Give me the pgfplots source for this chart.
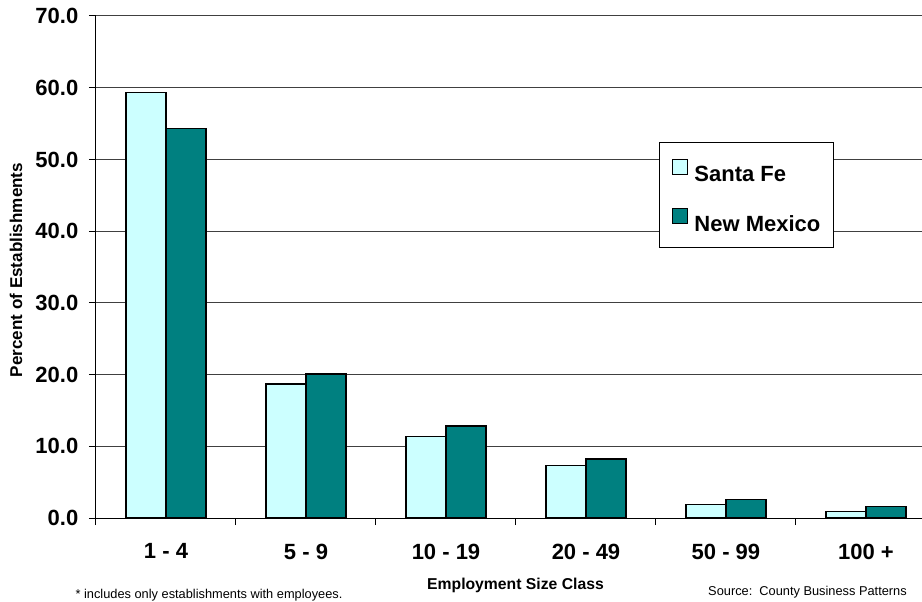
\documentclass[border=0pt]{standalone}
\usepackage{pgfplots}
\pgfplotsset{compat=1.18}
\usepackage{fontspec}
\setmainfont{Liberation Sans}
\definecolor{sfcol}{HTML}{CCFFFF}
\definecolor{nmcol}{HTML}{008080}
\begin{document}
\begin{tikzpicture}
\begin{axis}[
  scale only axis,
  width=619.5pt, height=376.5pt,
  at={(0pt,0pt)}, anchor=south west,
  xmin=-0.5, xmax=5.4, ymin=0, ymax=70,
  axis x line*=bottom, axis y line*=left,
  axis line style={-, line width=0.75pt, black},
  ybar=0pt, bar width=30pt,
  xtick={-0.5,0.5,1.5,2.5,3.5,4.5},
  xticklabels={},
  extra x ticks={0,1,2,3,4,5},
  extra x tick labels={1 - 4, 5 - 9, 10 - 19, 20 - 49, 50 - 99, 100 +},
  extra x tick style={major tick length=0pt, tick label style={yshift=-15.75pt}},
  ytick={0,10,...,70},
  tick align=outside,
  major tick length=5.25pt,
  tick style={black, line width=0.75pt},
  ymajorgrids, grid style={black!75, line width=0.75pt},
  /pgf/number format/assume math mode=true,
  ticklabel style={font=\fontsize{16.5}{18}\selectfont\bfseries},
  yticklabel style={xshift=-4.5pt, /pgf/number format/.cd, fixed, fixed zerofill, precision=1},
  legend style={at={(0.6816,0.749)}, anchor=north west, draw=black, line width=0.75pt,
    font=\fontsize{16.5}{18}\selectfont\bfseries,
    inner xsep=9.75pt, inner ysep=12pt, row sep=20pt, column sep=4.5pt,
    nodes={inner sep=0pt, text height=11.25pt, text depth=0pt}},
  legend cell align=left,
]
\addplot[fill=sfcol, draw=black, line width=1.1pt,
  legend image code/.code={\draw[fill=sfcol,draw=black,line width=0.75pt] (0pt,0pt) rectangle (11.25pt,11.25pt);}]
  coordinates {(0,59.3) (1,18.7) (2,11.4) (3,7.3) (4,1.9) (5,0.9)};
\addplot[fill=nmcol, draw=black, line width=1.1pt,
  legend image code/.code={\draw[fill=nmcol,draw=black,line width=0.75pt] (0pt,0pt) rectangle (11.25pt,11.25pt);}]
  coordinates {(0,54.3) (1,20.1) (2,12.8) (3,8.2) (4,2.6) (5,1.6)};
\legend{Santa Fe, New Mexico}
\end{axis}
\node[font=\fontsize{11.8}{14}\selectfont\bfseries] at (314.6pt,-50.25pt) {Employment Size Class};
\node[font=\fontsize{12.8}{15}\selectfont\bfseries, rotate=90] at (-60pt,186pt) {Percent of Establishments};
\node[font=\fontsize{9.6}{11}\selectfont, anchor=east, inner sep=0pt] at (608.25pt,-55.5pt) {Source:\ \ County Business Patterns};
\node[font=\fontsize{9.6}{11}\selectfont, inner sep=0pt] at (84.75pt,-57.75pt) {* includes only establishments with employees.};
\pgfresetboundingbox
\useasboundingbox (-72pt,-62.25pt) rectangle (619.5pt,388.5pt);
\end{tikzpicture}
\end{document}
